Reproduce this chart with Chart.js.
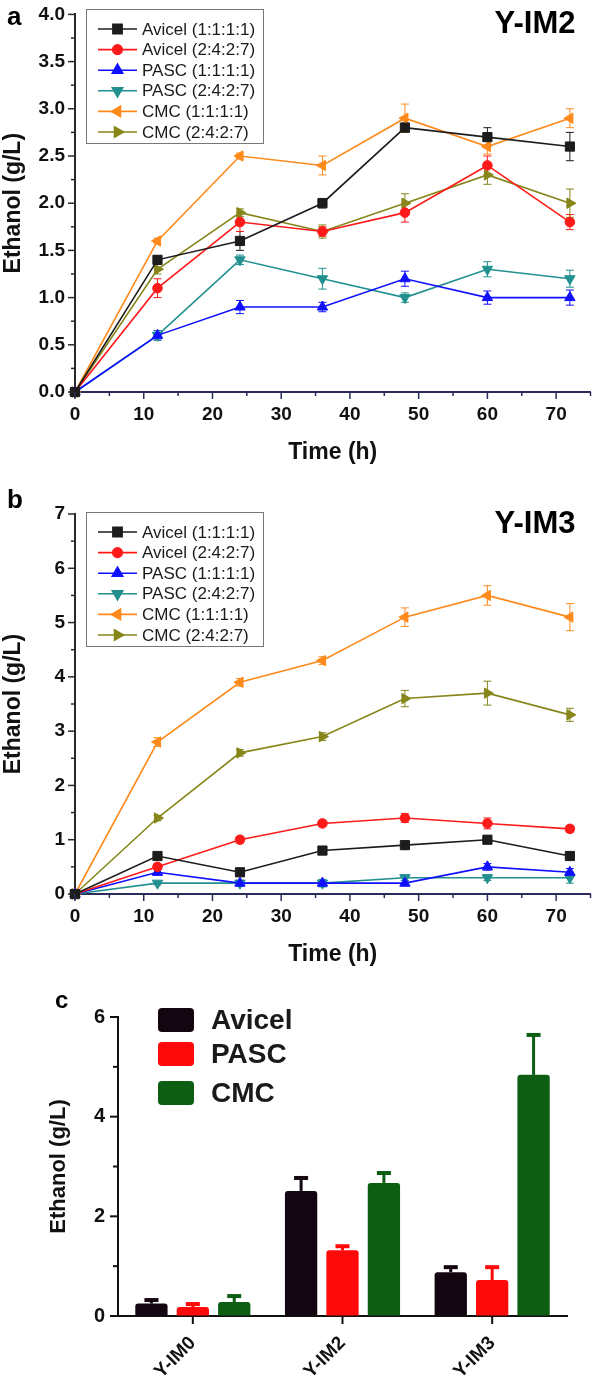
<!DOCTYPE html>
<html>
<head>
<meta charset="utf-8">
<style>
  body { margin: 0; background: #fff; }
  canvas { position: absolute; left: 0; }
  #chartA { top: 0; }
  #chartB { top: 488px; }
  #chartC { top: 990px; }
</style>
</head>
<body>
<canvas id="chartA" width="598" height="480"></canvas>
<canvas id="chartB" width="598" height="494"></canvas>
<canvas id="chartC" width="598" height="395"></canvas>

<script src="https://cdn.jsdelivr.net/npm/chart.js"></script>
<script>
    // sampling times (h)
    const hours = [0, 12, 24, 36, 48, 60, 72];
    const seriesLabels = ['Avicel (1:1:1:1)', 'Avicel (2:4:2:7)', 'PASC (1:1:1:1)', 'PASC (2:4:2:7)', 'CMC (1:1:1:1)', 'CMC (2:4:2:7)'];

    // panel a - Y-IM2
    const im2Avicel1111 = [0, 1.4, 1.6, 2.0, 2.8, 2.7, 2.6];
    const im2Avicel2427 = [0, 1.1, 1.8, 1.7, 1.9, 2.4, 1.8];
    const im2Pasc1111   = [0, 0.6, 0.9, 0.9, 1.2, 1.0, 1.0];
    const im2Pasc2427   = [0, 0.6, 1.4, 1.2, 1.0, 1.3, 1.2];
    const im2Cmc1111    = [0, 1.6, 2.5, 2.4, 2.9, 2.6, 2.9];
    const im2Cmc2427    = [0, 1.3, 1.9, 1.7, 2.0, 2.3, 2.0];
    const im2Avicel1111Err = [0, 0.04, 0.1, 0.05, 0.05, 0.1, 0.15];
    const im2Avicel2427Err = [0, 0.1, 0.1, 0.05, 0.1, 0.1, 0.08];
    const im2Pasc1111Err   = [0, 0.05, 0.07, 0.05, 0.08, 0.07, 0.08];
    const im2Pasc2427Err   = [0, 0.05, 0.05, 0.11, 0.05, 0.08, 0.09];
    const im2Cmc1111Err    = [0, 0.03, 0.03, 0.1, 0.15, 0.08, 0.1];
    const im2Cmc2427Err    = [0, 0.05, 0.04, 0.07, 0.1, 0.1, 0.15];

    // panel b - Y-IM3
    const im3Avicel1111 = [0, 0.7, 0.4, 0.8, 0.9, 1.0, 0.7];
    const im3Avicel2427 = [0, 0.5, 1.0, 1.3, 1.4, 1.3, 1.2];
    const im3Pasc1111   = [0, 0.4, 0.2, 0.2, 0.2, 0.5, 0.4];
    const im3Pasc2427   = [0, 0.2, 0.2, 0.2, 0.3, 0.3, 0.3];
    const im3Cmc1111    = [0, 2.8, 3.9, 4.3, 5.1, 5.5, 5.1];
    const im3Cmc2427    = [0, 1.4, 2.6, 2.9, 3.6, 3.7, 3.3];
    const im3Avicel1111Err = [0, 0.05, 0.05, 0.05, 0.07, 0.05, 0.05];
    const im3Avicel2427Err = [0, 0.05, 0.06, 0.05, 0.08, 0.1, 0.06];
    const im3Pasc1111Err   = [0, 0.05, 0.05, 0.05, 0.05, 0.06, 0.07];
    const im3Pasc2427Err   = [0, 0.03, 0.05, 0.07, 0.05, 0.05, 0.1];
    const im3Cmc1111Err    = [0, 0.08, 0.07, 0.07, 0.17, 0.18, 0.25];
    const im3Cmc2427Err    = [0, 0.05, 0.06, 0.07, 0.15, 0.22, 0.12];

    // panel c - bars
    const strains = ['Y-IM0', 'Y-IM2', 'Y-IM3'];
    const barAvicel = [0.25, 2.51, 0.88];
    const barPasc   = [0.18, 1.32, 0.72];
    const barCmc    = [0.28, 2.67, 4.84];
    const barAvicelErr = [0.07, 0.26, 0.10];
    const barPascErr   = [0.06, 0.08, 0.26];
    const barCmcErr    = [0.12, 0.20, 0.80];

    const FONT = "'Liberation Sans', Arial, sans-serif";

    // draws tick marks (long for labelled ticks, short for minor ones)
    const tickMarks = {
        id: 'tickMarks',
        afterDraw(chart, args, opts) {
            const ctx = chart.ctx;
            Object.values(chart.scales).forEach(scale => {
                const o = opts[scale.id];
                if (!o) return;
                ctx.save();
                ctx.strokeStyle = o.color;
                ctx.lineWidth = o.width;
                scale.ticks.forEach((t, i) => {
                    const len = (t.label !== '' && t.label != null) ? o.major : o.minor;
                    const p = scale.getPixelForTick(i);
                    ctx.beginPath();
                    if (scale.isHorizontal()) {
                        ctx.moveTo(p, scale.top);
                        ctx.lineTo(p, scale.top + len);
                    } else {
                        ctx.moveTo(scale.right, p);
                        ctx.lineTo(scale.right - len, p);
                    }
                    ctx.stroke();
                });
                ctx.restore();
            });
        }
    };

    // error bars, read from dataset.errors
    const errorBars = {
        id: 'errorBars',
        beforeDatasetsDraw(chart, args, opts) {
            if (opts.mode !== 'both') return;
            drawErrors(chart, opts);
        },
        afterDatasetsDraw(chart, args, opts) {
            if (opts.mode !== 'up') return;
            drawErrors(chart, opts);
        }
    };

    function drawErrors(chart, opts) {
        const ctx = chart.ctx;
        const yScale = chart.scales.y;
        chart.data.datasets.forEach((ds, i) => {
            if (!ds.errors) return;
            const meta = chart.getDatasetMeta(i);
            ctx.save();
            ctx.strokeStyle = ds.errorColor || ds.borderColor;
            ctx.lineWidth = opts.width;
            meta.data.forEach((el, j) => {
                const e = ds.errors[j];
                if (!e) return;
                const v = meta._parsed[j].y;
                const top = yScale.getPixelForValue(v + e);
                const bot = opts.mode === 'up' ? el.y : yScale.getPixelForValue(v - e);
                ctx.beginPath();
                ctx.moveTo(el.x, top);
                ctx.lineTo(el.x, bot);
                ctx.stroke();
                ctx.lineWidth = opts.capWidth;
                ctx.beginPath();
                ctx.moveTo(el.x - opts.cap / 2, top);
                ctx.lineTo(el.x + opts.cap / 2, top);
                if (opts.mode === 'both') {
                    ctx.moveTo(el.x - opts.cap / 2, bot);
                    ctx.lineTo(el.x + opts.cap / 2, bot);
                }
                ctx.stroke();
                ctx.lineWidth = opts.width;
            });
            ctx.restore();
        });
    }

    // boxed legend for the line panels, swatch legend for the bar panel
    const boxLegend = {
        id: 'boxLegend',
        afterDraw(chart, args, o) {
            if (!o.display) return;
            const ctx = chart.ctx;
            ctx.save();
            if (o.box) {
                ctx.strokeStyle = '#777';
                ctx.lineWidth = 1;
                ctx.strokeRect(o.box[0] + 0.5, o.box[1] + 0.5, o.box[2], o.box[3]);
            }
            ctx.font = o.font;
            ctx.textBaseline = 'middle';
            ctx.fillStyle = '#111';
            chart.data.datasets.forEach((ds, i) => {
                const y = o.rows[i];
                if (o.swatch) {
                    ctx.fillStyle = ds.backgroundColor;
                    ctx.beginPath();
                    ctx.roundRect(o.x, y - o.swatch[1] / 2, o.swatch[0], o.swatch[1], 4);
                    ctx.fill();
                } else {
                    ctx.strokeStyle = ds.borderColor;
                    ctx.lineWidth = ds.borderWidth;
                    ctx.beginPath();
                    ctx.moveTo(o.x, y);
                    ctx.lineTo(o.x + o.lineLen, y);
                    ctx.stroke();
                    ctx.fillStyle = ds.pointBackgroundColor;
                    ctx.strokeStyle = ds.pointBorderColor;
                    Chart.helpers.drawPoint(ctx, {
                        pointStyle: ds.pointStyle,
                        rotation: ds.pointRotation || 0,
                        radius: ds.pointRadius,
                        borderWidth: 1
                    }, o.x + o.lineLen / 2, y);
                }
                ctx.fillStyle = '#1a1a1a';
                ctx.fillText(ds.label, o.textX, y + 1);
            });
            ctx.restore();
        }
    };

    // panel letters and strain labels
    const panelText = {
        id: 'panelText',
        afterDraw(chart, args, o) {
            const ctx = chart.ctx;
            ctx.save();
            ctx.fillStyle = '#000';
            ctx.textBaseline = 'alphabetic';
            (o.items || []).forEach(it => {
                ctx.font = it.font;
                ctx.textAlign = it.align || 'left';
                ctx.fillText(it.text, it.x, it.y);
            });
            ctx.restore();
        }
    };

    function lineSet(label, vals, errs, color, style, rotation, radius) {
        return {
            label: label,
            data: hours.map((h, k) => ({x: h, y: vals[k]})),
            errors: errs,
            borderColor: color,
            backgroundColor: color,
            pointBackgroundColor: color,
            pointBorderColor: color,
            borderWidth: 1.6,
            pointStyle: style,
            pointRotation: rotation,
            pointRadius: radius,
            pointBorderWidth: 1,
            tension: 0,
            clip: false
        };
    }

    const colors = ['#1c1c1c', '#ff1a1a', '#1010ff', '#21908f', '#ff8a1c', '#86861a'];

    function makeLineChart(id, sets, yMax, yStep, yLabelEvery, decimals, topPad, name, letter, letterY, nameY, legendTop) {
        const datasets = [
            lineSet(seriesLabels[0], sets[0][0], sets[0][1], colors[0], 'rect', 0, 6.5),
            lineSet(seriesLabels[1], sets[1][0], sets[1][1], colors[1], 'circle', 0, 4.8),
            lineSet(seriesLabels[2], sets[2][0], sets[2][1], colors[2], 'triangle', 0, 6),
            lineSet(seriesLabels[3], sets[3][0], sets[3][1], colors[3], 'triangle', 180, 6),
            lineSet(seriesLabels[4], sets[4][0], sets[4][1], colors[4], 'triangle', 270, 6),
            lineSet(seriesLabels[5], sets[5][0], sets[5][1], colors[5], 'triangle', 90, 6)
        ];
        const rows = [];
        for (let i = 0; i < 6; i++) rows.push(legendTop + 20 + i * 20.6);
        return new Chart(document.getElementById(id).getContext('2d'), {
            type: 'line',
            data: { datasets: datasets },
            options: {
                responsive: false,
                animation: false,
                devicePixelRatio: 1,
                layout: { padding: { top: topPad, right: 2, left: 0, bottom: 0 } },
                scales: {
                    x: {
                        type: 'linear',
                        min: 0,
                        max: 75,
                        afterFit: s => { s.height = 88; },
                        border: { display: true, color: '#2c2c5c', width: 2 },
                        grid: { display: true, drawOnChartArea: false, tickLength: 7, tickColor: 'rgba(0,0,0,0)' },
                        ticks: {
                            stepSize: 5,
                            autoSkip: false,
                            maxRotation: 0,
                            padding: 4,
                            color: '#111',
                            font: { family: FONT, size: 19, weight: 'bold' },
                            callback: v => (v % 10 === 0 && v <= 70) ? String(v) : ''
                        },
                        title: {
                            display: true,
                            text: 'Time (h)',
                            color: '#111',
                            padding: { top: 0, bottom: 14 },
                            font: { family: FONT, size: 23, weight: 'bold' }
                        }
                    },
                    y: {
                        min: 0,
                        max: yMax,
                        afterFit: s => { s.width = 75; },
                        border: { display: true, color: '#2a2a2a', width: 2 },
                        grid: { display: true, drawOnChartArea: false, tickLength: 7, tickColor: 'rgba(0,0,0,0)' },
                        ticks: {
                            stepSize: yStep,
                            autoSkip: false,
                            padding: 3,
                            color: '#111',
                            font: { family: FONT, size: 19, weight: 'bold' },
                            callback: v => (Math.abs(v / yLabelEvery - Math.round(v / yLabelEvery)) < 1e-6) ? v.toFixed(decimals) : ''
                        },
                        title: {
                            display: true,
                            text: 'Ethanol (g/L)',
                            color: '#111',
                            padding: { top: 0, bottom: 0 },
                            font: { family: FONT, size: 23, weight: 'bold' }
                        }
                    }
                },
                plugins: {
                    legend: { display: false },
                    tooltip: { enabled: false },
                    tickMarks: {
                        x: { color: '#2c2c5c', width: 1.5, major: 7, minor: 4 },
                        y: { color: '#2a2a2a', width: 1.5, major: 7, minor: 4 }
                    },
                    errorBars: { mode: 'both', width: 1, cap: 8, capWidth: 1 },
                    boxLegend: {
                        display: true,
                        box: [86, legendTop, 177, 134],
                        rows: rows,
                        x: 98,
                        lineLen: 39,
                        textX: 142,
                        font: '17px ' + FONT
                    },
                    panelText: {
                        items: [
                            { text: letter, x: 7, y: letterY, font: 'bold 26px ' + FONT },
                            { text: name, x: 535, y: nameY, font: 'bold 31px ' + FONT, align: 'center' }
                        ]
                    }
                }
            },
            plugins: [errorBars, tickMarks, boxLegend, panelText]
        });
    }

    makeLineChart('chartA', [
        [im2Avicel1111, im2Avicel1111Err],
        [im2Avicel2427, im2Avicel2427Err],
        [im2Pasc1111, im2Pasc1111Err],
        [im2Pasc2427, im2Pasc2427Err],
        [im2Cmc1111, im2Cmc1111Err],
        [im2Cmc2427, im2Cmc2427Err]
    ], 4, 0.25, 0.5, 1, 12, 'Y-IM2', 'a', 25, 33, 9);

    makeLineChart('chartB', [
        [im3Avicel1111, im3Avicel1111Err],
        [im3Avicel2427, im3Avicel2427Err],
        [im3Pasc1111, im3Pasc1111Err],
        [im3Pasc2427, im3Pasc2427Err],
        [im3Cmc1111, im3Cmc1111Err],
        [im3Cmc2427, im3Cmc2427Err]
    ], 7, 0.5, 1, 0, 26, 'Y-IM3', 'b', 20, 45, 24);

    // panel c
    new Chart(document.getElementById('chartC').getContext('2d'), {
        type: 'bar',
        data: {
            labels: strains,
            datasets: [
                { label: 'Avicel', data: barAvicel, errors: barAvicelErr, backgroundColor: '#140610', borderColor: '#140610' },
                { label: 'PASC', data: barPasc, errors: barPascErr, backgroundColor: '#ff0a0a', borderColor: '#ff0a0a' },
                { label: 'CMC', data: barCmc, errors: barCmcErr, backgroundColor: '#0d5e12', borderColor: '#0d5e12' }
            ]
        },
        options: {
            responsive: false,
            animation: false,
            devicePixelRatio: 1,
            layout: { padding: { top: 27, right: 31, left: 0, bottom: 0 } },
            datasets: {
                bar: { categoryPercentage: 0.83, barPercentage: 0.78, borderRadius: 3, borderWidth: 0 }
            },
            scales: {
                x: {
                    afterFit: s => { s.height = 69; },
                    border: { display: true, color: '#111', width: 2 },
                    grid: { display: true, drawOnChartArea: false, offset: true, tickLength: 8, tickColor: 'rgba(0,0,0,0)' },
                    ticks: {
                        autoSkip: false,
                        minRotation: 45,
                        maxRotation: 45,
                        padding: 8,
                        color: '#111',
                        font: { family: FONT, size: 19, weight: 'bold' }
                    }
                },
                y: {
                    min: 0,
                    max: 6,
                    afterFit: s => { s.width = 118; },
                    border: { display: true, color: '#111', width: 2 },
                    grid: { display: true, drawOnChartArea: false, tickLength: 8, tickColor: 'rgba(0,0,0,0)' },
                    ticks: {
                        stepSize: 1,
                        autoSkip: false,
                        padding: 5,
                        color: '#111',
                        font: { family: FONT, size: 20, weight: 'bold' },
                        callback: v => (v % 2 === 0) ? String(v) : ''
                    },
                    title: {
                        display: true,
                        text: 'Ethanol (g/L)',
                        color: '#111',
                        padding: { top: 46, bottom: 0 },
                        font: { family: FONT, size: 22, weight: 'bold' }
                    }
                }
            },
            plugins: {
                legend: { display: false },
                tooltip: { enabled: false },
                tickMarks: {
                    x: { color: '#111', width: 2, major: 8, minor: 8 },
                    y: { color: '#111', width: 2, major: 8, minor: 5 }
                },
                errorBars: { mode: 'up', width: 3, cap: 14, capWidth: 4 },
                boxLegend: {
                    display: true,
                    swatch: [36, 24],
                    rows: [30, 64, 103],
                    x: 158,
                    textX: 211,
                    font: 'bold 28px ' + FONT
                },
                panelText: {
                    items: [
                        { text: 'c', x: 55, y: 18, font: 'bold 24px ' + FONT }
                    ]
                }
            }
        },
        plugins: [errorBars, tickMarks, boxLegend, panelText]
    });
</script>
</body>
</html>
